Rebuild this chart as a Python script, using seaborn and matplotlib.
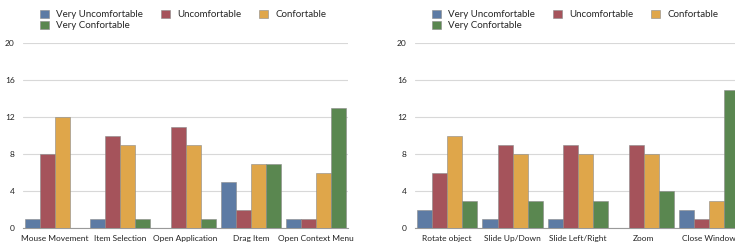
import pandas as pd
import matplotlib.pyplot as plt
import seaborn as sns

# Dados
niveis = ["Very Uncomfortable", "Uncomfortable", "Confortable", "Very Confortable"]
cores = ["#5d7ba4", "#a5535b", "#dfa64a", "#5a8750"]

tarefas_esq = ["Mouse Movement", "Item Selection", "Open Application", "Drag Item", "Open Context Menu"]
very_unc_esq = [1, 1, 0, 5, 1]
unc_esq = [8, 10, 11, 2, 1]
conf_esq = [12, 9, 9, 7, 6]
very_conf_esq = [0, 1, 1, 7, 13]

tarefas_dir = ["Rotate object", "Slide Up/Down", "Slide Left/Right", "Zoom", "Close Window"]
very_unc_dir = [2, 1, 1, 0, 2]
unc_dir = [6, 9, 9, 9, 1]
conf_dir = [10, 8, 8, 8, 3]
very_conf_dir = [3, 3, 3, 4, 15]

yticks = [0, 4, 8, 12, 16, 20]


def montar_df(tarefas, series):
    linhas = []
    for nivel, valores in zip(niveis, series):
        for t, v in zip(tarefas, valores):
            linhas.append({"Tarefa": t, "Nivel": nivel, "Valor": v})
    return pd.DataFrame(linhas)


df_esq = montar_df(tarefas_esq, [very_unc_esq, unc_esq, conf_esq, very_conf_esq])
df_dir = montar_df(tarefas_dir, [very_unc_dir, unc_dir, conf_dir, very_conf_dir])

sns.set_style("white")
plt.rcParams["font.family"] = ["Lato", "DejaVu Sans"]

fig = plt.figure(figsize=(7.35, 2.46), dpi=100)
ax1 = fig.add_axes([0.0313, 0.072, 0.4422, 0.752])
ax2 = fig.add_axes([0.5646, 0.072, 0.4440, 0.752])

for ax, df, tarefas in [(ax1, df_esq, tarefas_esq), (ax2, df_dir, tarefas_dir)]:
    sns.barplot(
        data=df, x="Tarefa", y="Valor", hue="Nivel", order=tarefas,
        hue_order=niveis, palette=cores, width=0.92, saturation=1,
        edgecolor="#8a8a8a", linewidth=0.4, ax=ax, zorder=3,
    )
    ax.set_ylim(0, 20)
    ax.set_xlim(-0.49, 4.49)
    ax.set_yticks(yticks)
    ax.grid(axis="y", color="#d8d8d8", linewidth=0.8, zorder=0)
    ax.set_axisbelow(True)
    for s in ["top", "left", "right"]:
        ax.spines[s].set_visible(False)
    ax.spines["bottom"].set_color("#9a9a9a")
    ax.spines["bottom"].set_linewidth(0.8)
    ax.tick_params(axis="both", length=0, labelsize=6.0, colors="#222222")
    ax.tick_params(axis="x", pad=4.5)
    ax.tick_params(axis="y", pad=6)
    ax.set_xlabel("")
    ax.set_ylabel("")

    # legenda em ordem por linha (matplotlib preenche por coluna)
    h, l = ax.get_legend_handles_labels()
    ordem = [0, 3, 1, 2]
    ax.legend(
        [h[i] for i in ordem], [l[i] for i in ordem],
        loc="lower left", bbox_to_anchor=(0.052, 1.07), ncol=3, frameon=False,
        fontsize=7.0, handlelength=0.93, handleheight=0.93, handletextpad=0.72,
        columnspacing=1.85, labelspacing=0.18, borderaxespad=0, borderpad=0,
    )

plt.savefig("out.png", dpi=100)
plt.close()
